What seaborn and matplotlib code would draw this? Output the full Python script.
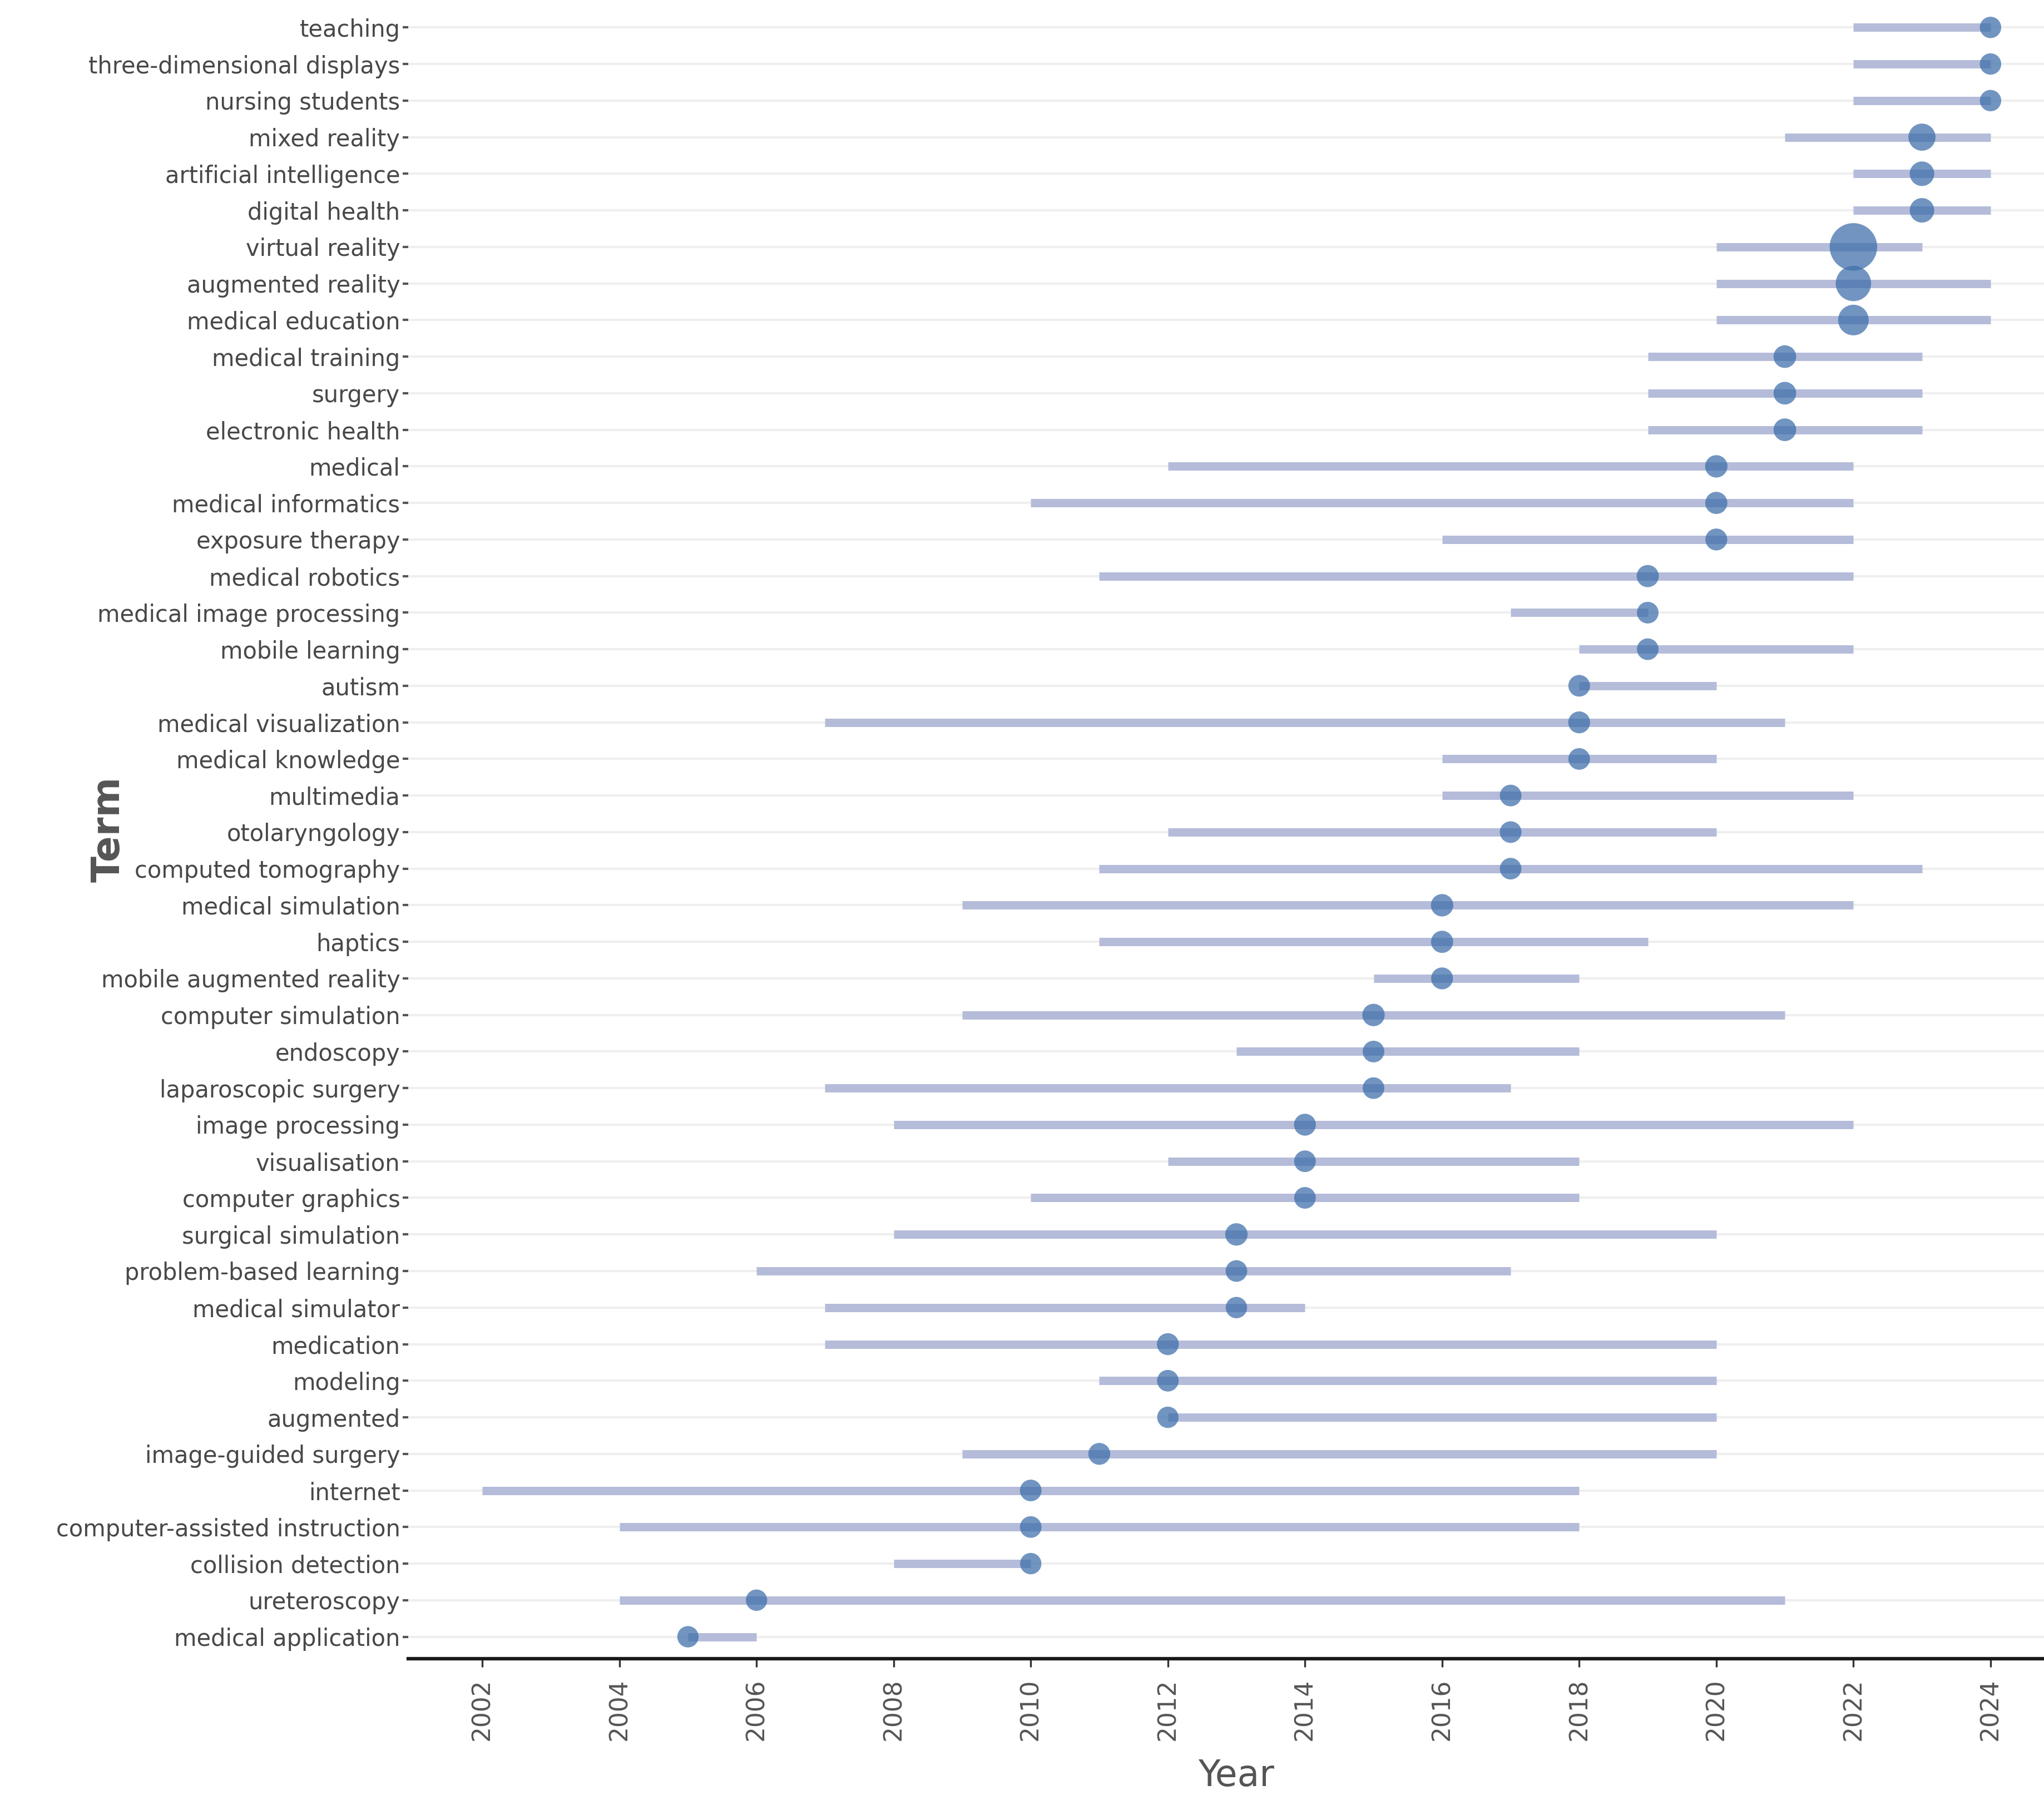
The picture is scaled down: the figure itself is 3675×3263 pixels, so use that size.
"""
Trend topics: span of years (first quartile to third quartile) and median year per term.

"""
import numpy as np
import pandas as pd
import matplotlib.pyplot as plt
import seaborn as sns

terms = [
    'teaching', 'three-dimensional displays', 'nursing students', 'mixed reality',
    'artificial intelligence', 'digital health', 'virtual reality', 'augmented reality',
    'medical education', 'medical training', 'surgery', 'electronic health', 'medical',
    'medical informatics', 'exposure therapy', 'medical robotics',
    'medical image processing', 'mobile learning', 'autism', 'medical visualization',
    'medical knowledge', 'multimedia', 'otolaryngology', 'computed tomography',
    'medical simulation', 'haptics', 'mobile augmented reality', 'computer simulation',
    'endoscopy', 'laparoscopic surgery', 'image processing', 'visualisation',
    'computer graphics', 'surgical simulation', 'problem-based learning',
    'medical simulator', 'medication', 'modeling', 'augmented', 'image-guided surgery',
    'internet', 'computer-assisted instruction', 'collision detection', 'ureteroscopy',
    'medical application',
]

year_start = [
    2022, 2022, 2022, 2021, 2022, 2022, 2020, 2020, 2020, 2019, 2019, 2019, 2012,
    2010, 2016, 2011, 2017, 2018, 2018, 2007, 2016, 2016, 2012, 2011, 2009, 2011,
    2015, 2009, 2013, 2007, 2008, 2012, 2010, 2008, 2006, 2007, 2007, 2011, 2012,
    2009, 2002, 2004, 2008, 2004, 2005,
]

year_median = [
    2024, 2024, 2024, 2023, 2023, 2023, 2022, 2022, 2022, 2021, 2021, 2021, 2020,
    2020, 2020, 2019, 2019, 2019, 2018, 2018, 2018, 2017, 2017, 2017, 2016, 2016,
    2016, 2015, 2015, 2015, 2014, 2014, 2014, 2013, 2013, 2013, 2012, 2012, 2012,
    2011, 2010, 2010, 2010, 2006, 2005,
]

year_end = [
    2024, 2024, 2024, 2024, 2024, 2024, 2023, 2024, 2024, 2023, 2023, 2023, 2022,
    2022, 2022, 2022, 2019, 2022, 2020, 2021, 2020, 2022, 2020, 2023, 2022, 2019,
    2018, 2021, 2018, 2017, 2022, 2018, 2018, 2020, 2017, 2014, 2020, 2020, 2020,
    2020, 2018, 2018, 2010, 2021, 2006,
]

frequency = [
    9, 9, 9, 34, 22, 22, 170, 80, 52, 14, 14, 14, 13,
    12, 11, 12, 10, 10, 10, 11, 10, 10, 10, 10, 13, 12,
    11, 13, 10, 10, 11, 10, 10, 13, 10, 9, 11, 10, 9,
    11, 10, 10, 9, 9, 9,
]

x_ticks = list(range(2002, 2025, 2))


def build_data():
    """
    Assemble the term table.

    """
    data = pd.DataFrame({
        'term': terms,
        'start': year_start,
        'median': year_median,
        'end': year_end,
        'freq': frequency,
    })
    data['pos'] = np.arange(len(data))

    return data


def plot(data):
    """
    Plot the trend topics.

    """
    sns.set_theme(style='white')
    plt.rcParams['font.family'] = ['DejaVu Sans']

    fig = plt.figure(figsize=(12.25, 3263 / 300))
    ax = fig.add_axes([734 / 3675, 1 - 2982 / 3263, 1 - 734 / 3675, 2982 / 3263])

    ax.hlines(
        data['pos'], data['start'], data['end'],
        color='#b4bcd9', lw=3.6, zorder=2,
    )

    sns.scatterplot(
        data=data,
        x='median',
        y='pos',
        size='freq',
        sizes=(85, 420),
        size_norm=(9, 170),
        color='#3f70aa',
        alpha=0.74,
        edgecolor='none',
        legend=False,
        zorder=3,
        ax=ax,
    )

    ax.set_xlim(2000.92, 2024.78)
    ax.set_ylim(len(data) - 1 + 0.6, -0.75)

    ax.set_yticks(data['pos'])
    ax.set_yticklabels(data['term'], fontsize=10, color='#484848')
    ax.set_xticks(x_ticks)
    ax.set_xticklabels([str(t) for t in x_ticks], rotation=90,
                       fontsize=10.5, color='#555555')

    ax.yaxis.grid(True, color='#efefef', lw=1.0)
    ax.xaxis.grid(False)
    ax.set_axisbelow(True)

    for side in ['left', 'right', 'top']:
        ax.spines[side].set_visible(False)
    ax.spines['bottom'].set_color('#1a1a1a')
    ax.spines['bottom'].set_linewidth(1.5)

    ax.tick_params(axis='y', left=True, length=2.5, width=1.0,
                   color='#555555', pad=1)
    ax.tick_params(axis='x', bottom=True, length=3.5, width=0.8,
                   color='#333333', pad=5)

    ax.set_xlabel('Year', fontsize=15.5, color='#555555')
    ax.xaxis.set_label_coords(0.506, -0.06)
    ax.set_ylabel('Term', fontsize=16.5, fontweight='bold', color='#555555')
    ax.yaxis.set_label_coords(-0.172, 0.5)

    fig.savefig('out.png', dpi=300, facecolor='white')


if __name__ == '__main__':

    data = build_data()

    plot(data)
